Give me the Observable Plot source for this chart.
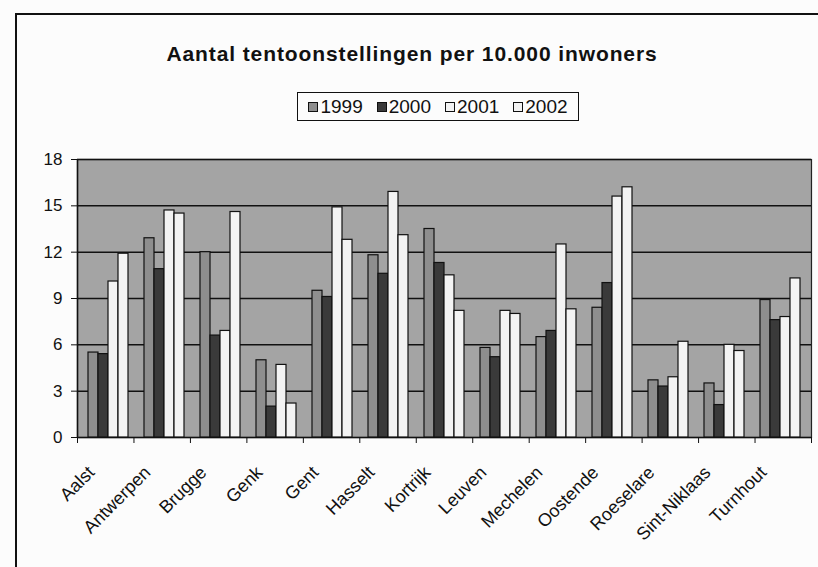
<!DOCTYPE html>
<html>
<head>
<meta charset="utf-8">
<script src="https://cdn.jsdelivr.net/npm/d3@7"></script>
<script src="https://cdn.jsdelivr.net/npm/@observablehq/plot@0.6"></script>
<style>
  html, body { margin: 0; padding: 0; background: #fcfcfc; }
  #chart { position: relative; width: 818px; height: 567px; overflow: hidden; background: #fcfcfc; font-family: Arial, "Liberation Sans", sans-serif; }
  #frame { position: absolute; left: 15px; top: 13px; width: 820px; height: 570px; border-left: 2px solid #111; border-top: 2px solid #111; }
  #title { position: absolute; left: 0; width: 818px; top: 44px; text-align: center; font-weight: bold; font-size: 21px; line-height: 20px; letter-spacing: 0.9px; color: #111; padding-left: 6px; box-sizing: border-box; }
  #legend { position: absolute; left: 297px; top: 92px; width: 282px; height: 29px; border: 1.5px solid #111; box-sizing: border-box; display: flex; align-items: center; justify-content: center; gap: 14px; font-size: 19px; color: #111; }
  .item { display: flex; align-items: center; gap: 2px; }
  .sw { width: 8px; height: 8px; border: 1px solid #111; display: inline-block; }
  .layer { position: absolute; left: 0; top: 140px; }
</style>
</head>
<body>
<div id="chart">
  <div id="frame"></div>
  <div id="title">Aantal tentoonstellingen per 10.000 inwoners</div>
  <div id="legend"></div>
</div>
<script>
const cities = ["Aalst","Antwerpen","Brugge","Genk","Gent","Hasselt","Kortrijk","Leuven","Mechelen","Oostende","Roeselare","Sint-Niklaas","Turnhout"];
const years = ["1999","2000","2001","2002"];
const v1999 = [5.5, 12.9, 12.0, 5.0, 9.5, 11.8, 13.5, 5.8, 6.5, 8.4, 3.7, 3.5, 8.9];
const v2000 = [5.4, 10.9, 6.6, 2.0, 9.1, 10.6, 11.3, 5.2, 6.9, 10.0, 3.3, 2.1, 7.6];
const v2001 = [10.1, 14.7, 6.9, 4.7, 14.9, 15.9, 10.5, 8.2, 12.5, 15.6, 3.9, 6.0, 7.8];
const v2002 = [11.9, 14.5, 14.6, 2.2, 12.8, 13.1, 8.2, 8.0, 8.3, 16.2, 6.2, 5.6, 10.3];
const yTicks = [0, 3, 6, 9, 12, 15, 18];
const yearColors = ["#8e8e8e", "#3a3a3a", "#f3f3f3", "#f3f3f3"];

const series = [v1999, v2000, v2001, v2002];
const data = [];
cities.forEach((c, i) => years.forEach((y, j) => data.push({city: c, year: y, value: series[j][i]})));

const W = 818, H = 427;
const M = {marginLeft: 77, marginRight: 7, marginTop: 19, marginBottom: 130};

// background layer: plot area, gridlines, y axis, category boundary ticks
const back = Plot.plot({
  width: W, height: H, ...M,
  style: {background: "transparent", fontFamily: "Arial, 'Liberation Sans', sans-serif", color: "#111"},
  x: {domain: [0, cities.length], axis: null},
  y: {domain: [0, 18], axis: null},
  marks: [
    Plot.frame({fill: "#a4a4a4", stroke: "#222", strokeWidth: 1.2}),
    Plot.ruleY(yTicks, {stroke: "#111", strokeWidth: 1.5}),
    Plot.axisY({ticks: yTicks, tickSize: 6, tickPadding: 9, fontSize: 17, label: null, stroke: "#111"}),
    Plot.axisX({ticks: d3.range(0, cities.length + 1), tickSize: 6, tickFormat: () => "", label: null, stroke: "#111"}),
    Plot.ruleX([0], {stroke: "#111", strokeWidth: 1.5})
  ]
});
back.classList.add("layer");

// bars layer
const front = Plot.plot({
  width: W, height: H, ...M,
  style: {background: "transparent", fontFamily: "Arial, 'Liberation Sans', sans-serif", color: "#111"},
  fx: {domain: cities, paddingInner: 0.29, paddingOuter: 0.145, label: null},
  x: {domain: years, padding: 0, axis: null},
  y: {domain: [0, 18], axis: null},
  color: {domain: years, range: yearColors},
  marks: [
    Plot.barY(data, {fx: "city", x: "year", y: "value", fill: "year", stroke: "#111", strokeWidth: 1.2}),
    Plot.axisFx({anchor: "bottom", tickRotate: -45, tickSize: 0, tickPadding: 32, dx: -17, fontSize: 18, label: null})
  ]
});
front.classList.add("layer");

const chart = document.getElementById("chart");
chart.appendChild(back);
chart.appendChild(front);

const legend = document.getElementById("legend");
years.forEach((y, j) => {
  const it = document.createElement("div");
  it.className = "item";
  const sw = document.createElement("span");
  sw.className = "sw";
  sw.style.background = yearColors[j];
  const t = document.createElement("span");
  t.textContent = y;
  it.appendChild(sw);
  it.appendChild(t);
  legend.appendChild(it);
});
</script>
</body>
</html>
